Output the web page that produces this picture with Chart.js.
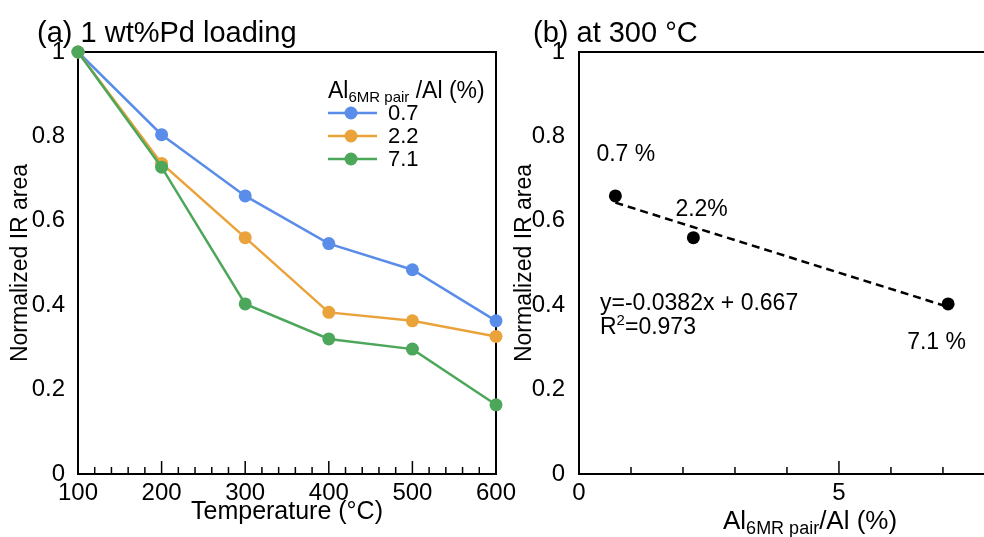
<!DOCTYPE html>
<html>
<head>
<meta charset="utf-8">
<script src="https://cdn.jsdelivr.net/npm/chart.js@4.4.1/dist/chart.umd.min.js"></script>
<style>
  html, body { margin: 0; padding: 0; background: #fff; overflow: hidden; }
  #wrap { position: relative; width: 984px; height: 537px; }
  .panel { position: absolute; top: 0; height: 537px; }
  #panelA { left: 0; width: 530px; }
  #panelB { left: 500px; width: 484px; }
</style>
</head>
<body>
<div id="wrap">
  <div class="panel" id="panelA"><canvas id="chartA"></canvas></div>
  <div class="panel" id="panelB"><canvas id="chartB"></canvas></div>
</div>
<script>
// (a) normalized IR area vs temperature, 1 wt% Pd
const temperatures = [100, 200, 300, 400, 500, 600];
const pairLabels = ['0.7', '2.2', '7.1'];
const area07 = [1, 0.804, 0.659, 0.546, 0.484, 0.363];
const area22 = [1, 0.736, 0.560, 0.383, 0.363, 0.326];
const area71 = [1, 0.727, 0.403, 0.320, 0.296, 0.164];
const seriesColors = ['#5a8de9', '#eaa33b', '#4da75b'];

// (b) at 300 °C vs Al(6MR pair)/Al
const pairRatio = [0.7, 2.2, 7.1];
const area300 = [0.659, 0.560, 0.403];
const pointLabels = ['0.7 %', '2.2%', '7.1 %'];
const fitX = [0.7, 7.1];
const fitY = [0.643, 0.396];

const FONT = '"Liberation Sans", Arial, sans-serif';
Chart.defaults.font.family = FONT;
Chart.defaults.color = '#000';

function toPoints(xs, ys) {
    return xs.map((x, i) => ({x: x, y: ys[i]}));
}

// text made of parts [text, size, dy] so sub/superscripts can be shifted
function drawRichText(ctx, x, y, parts) {
    let cx = x;
    ctx.textBaseline = 'alphabetic';
    ctx.textAlign = 'left';
    parts.forEach(([txt, size, dy]) => {
        ctx.font = size + 'px ' + FONT;
        ctx.fillText(txt, cx, y + (dy || 0));
        cx += ctx.measureText(txt).width;
    });
}

// tick marks pointing into the plot
function innerTicks(chart, majorStep) {
    const {ctx, chartArea, scales: {x}} = chart;
    ctx.save();
    ctx.strokeStyle = '#000';
    ctx.lineWidth = 1.5;
    x.ticks.forEach(t => {
        const px = x.getPixelForValue(t.value);
        const r = t.value / majorStep;
        const len = Math.abs(r - Math.round(r)) < 1e-6 ? 13 : 7;
        ctx.beginPath();
        ctx.moveTo(px, chartArea.bottom);
        ctx.lineTo(px, chartArea.bottom - len);
        ctx.stroke();
    });
    ctx.restore();
}

function yTickLabel(value) {
    if (value === 0) return '0';
    if (Math.abs(value - 1) < 1e-9) return '1';
    return value.toFixed(1);
}

const panelA = {
    id: 'panelA',
    beforeDatasetsDraw(chart) {
        const {ctx, chartArea: a} = chart;
        ctx.save();
        ctx.strokeStyle = '#000';
        ctx.lineWidth = 2;
        ctx.strokeRect(a.left, a.top, a.right - a.left, a.bottom - a.top);
        ctx.restore();
        innerTicks(chart, 100);
    },
    afterDraw(chart) {
        const ctx = chart.ctx;
        ctx.save();
        ctx.fillStyle = '#000';
        ctx.font = '29px ' + FONT;
        ctx.textBaseline = 'alphabetic';
        ctx.fillText('(a) 1 wt%Pd loading', 37, 42);

        // legend
        drawRichText(ctx, 328, 98, [['Al', 23], ['6MR pair', 15, 3.5], [' /Al (%)', 23]]);
        chart.data.datasets.forEach((ds, i) => {
            const y = 113 + i * 23;
            ctx.strokeStyle = ds.borderColor;
            ctx.lineWidth = 2.5;
            ctx.beginPath();
            ctx.moveTo(328, y);
            ctx.lineTo(377, y);
            ctx.stroke();
            ctx.fillStyle = ds.backgroundColor;
            ctx.beginPath();
            ctx.arc(351, y, 6.5, 0, Math.PI * 2);
            ctx.fill();
            ctx.fillStyle = '#000';
            ctx.font = '22px ' + FONT;
            ctx.textBaseline = 'middle';
            ctx.fillText(ds.label, 388, y + 1);
        });
        ctx.restore();
    }
};

const panelB = {
    id: 'panelB',
    beforeDatasetsDraw(chart) {
        const {ctx, chartArea: a} = chart;
        ctx.save();
        ctx.strokeStyle = '#000';
        ctx.lineWidth = 2;
        ctx.beginPath();
        ctx.moveTo(a.right, a.top);
        ctx.lineTo(a.left, a.top);
        ctx.lineTo(a.left, a.bottom);
        ctx.lineTo(a.right, a.bottom);
        ctx.stroke();
        ctx.restore();
        innerTicks(chart, 5);
    },
    afterDraw(chart) {
        const {ctx, chartArea: a, scales: {x, y}} = chart;
        const offsets = [[-19, -35], [-18, -22], [-41, 45]];
        ctx.save();
        ctx.fillStyle = '#000';
        ctx.font = '29px ' + FONT;
        ctx.textBaseline = 'alphabetic';
        ctx.fillText('(b) at 300 °C', 33, 42);

        ctx.font = '23px ' + FONT;
        pointLabels.forEach((lbl, i) => {
            const px = x.getPixelForValue(pairRatio[i]);
            const py = y.getPixelForValue(area300[i]);
            ctx.fillText(lbl, px + offsets[i][0], py + offsets[i][1]);
        });
        drawRichText(ctx, a.left + 21, a.top + 258, [['y=-0.0382x + 0.667', 23]]);
        drawRichText(ctx, a.left + 21, a.top + 282, [['R', 23], ['2', 15, -9], ['=0.973', 23]]);

        drawRichText(ctx, a.left + 144, 529, [['Al', 26], ['6MR pair', 18, 5], ['/Al (%)', 26]]);
        ctx.restore();
    }
};

const yAxisTitle = (pad) => ({
    display: true,
    text: 'Normalized IR area',
    font: {size: 23},
    padding: {top: pad, bottom: 0}
});

new Chart(document.getElementById('chartA'), {
    type: 'line',
    data: {
        datasets: [area07, area22, area71].map((vals, i) => ({
            label: pairLabels[i],
            data: toPoints(temperatures, vals),
            borderColor: seriesColors[i],
            backgroundColor: seriesColors[i],
            borderWidth: 2.5,
            pointRadius: 6.5,
            pointBorderWidth: 0,
            clip: false,
            order: 2 - i
        }))
    },
    options: {
        responsive: true,
        maintainAspectRatio: false,
        animation: false,
        events: [],
        layout: {autoPadding: false, padding: {top: 52, right: 34, left: 0, bottom: 0}},
        plugins: {legend: {display: false}, tooltip: {enabled: false}},
        scales: {
            x: {
                type: 'linear',
                min: 100,
                max: 600,
                grid: {display: false},
                border: {display: false},
                ticks: {
                    stepSize: 20,
                    autoSkip: false,
                    maxRotation: 0,
                    padding: -3,
                    font: {size: 24},
                    callback: v => (v % 100 === 0 ? String(v) : '')
                },
                title: {display: true, text: 'Temperature (°C)', font: {size: 25}, padding: {top: 0, bottom: 10}},
                afterFit: s => { s.height = 63; s.paddingLeft = 0; s.paddingRight = 0; }
            },
            y: {
                min: 0,
                max: 1,
                grid: {display: false},
                border: {display: false},
                ticks: {stepSize: 0.2, padding: 5, font: {size: 24}, callback: yTickLabel},
                title: yAxisTitle(7),
                afterFit: s => { s.width = 78; s.paddingTop = 0; s.paddingBottom = 0; }
            }
        }
    },
    plugins: [panelA]
});

new Chart(document.getElementById('chartB'), {
    type: 'scatter',
    data: {
        datasets: [{
            label: '300 °C',
            data: toPoints(pairRatio, area300),
            backgroundColor: '#000',
            borderColor: '#000',
            pointRadius: 6.5,
            pointBorderWidth: 0,
            clip: false
        }, {
            type: 'line',
            label: 'fit',
            data: toPoints(fitX, fitY),
            borderColor: '#000',
            borderWidth: 2.5,
            borderDash: [8, 5],
            pointRadius: 0,
            showLine: true
        }]
    },
    options: {
        responsive: true,
        maintainAspectRatio: false,
        animation: false,
        events: [],
        layout: {autoPadding: false, padding: {top: 52, right: 0, left: 0, bottom: 0}},
        plugins: {legend: {display: false}, tooltip: {enabled: false}},
        scales: {
            x: {
                type: 'linear',
                min: 0,
                max: 7.79,
                grid: {display: false},
                border: {display: false},
                ticks: {
                    stepSize: 1,
                    includeBounds: false,
                    autoSkip: false,
                    maxRotation: 0,
                    padding: -3,
                    font: {size: 24},
                    callback: v => (v % 5 === 0 ? String(v) : '')
                },
                afterFit: s => { s.height = 63; s.paddingLeft = 0; s.paddingRight = 0; }
            },
            y: {
                min: 0,
                max: 1,
                grid: {display: false},
                border: {display: false},
                ticks: {stepSize: 0.2, padding: 6, font: {size: 24}, callback: yTickLabel},
                title: yAxisTitle(11),
                afterFit: s => { s.width = 79; s.paddingTop = 0; s.paddingBottom = 0; }
            }
        }
    },
    plugins: [panelB]
});
</script>
</body>
</html>
